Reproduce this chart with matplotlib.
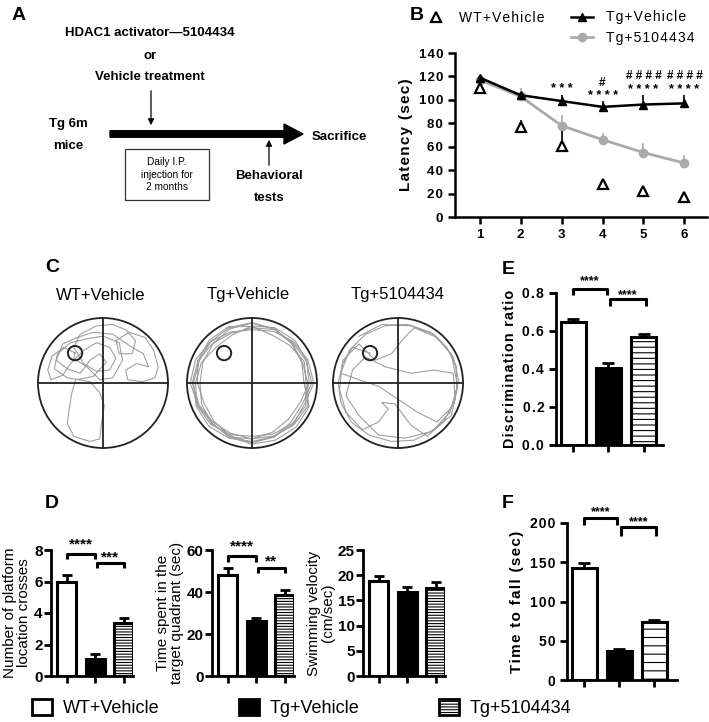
import matplotlib
matplotlib.use("Agg")
import matplotlib.pyplot as plt
import matplotlib.patches as mpatches
from matplotlib.lines import Line2D
from matplotlib.ticker import FuncFormatter
import numpy as np

plt.rcParams["font.family"] = ["Liberation Sans", "DejaVu Sans"]
plt.rcParams["hatch.linewidth"] = 0.8

W, H = 709, 722

# ---------------------------------------------------------------------------
# Data
# ---------------------------------------------------------------------------
groups = ["WT+Vehicle", "Tg+Vehicle", "Tg+5104434"]

# B: Morris water maze latency
days = [1, 2, 3, 4, 5, 6]
wt_latency = [110, 77, 61, 28, 22, 17]
wt_latency_err = [0, 6, 12, 0, 0, 0]
tg_latency = [119, 104, 99, 94, 96, 97]
tg_latency_err = [2, 3, 5, 5, 8, 7]
drug_latency = [117, 103, 78, 66, 55, 46]
drug_latency_err = [2, 7, 9, 6, 8, 7]
star_labels = ["", "", "* * *", "* * * *", "* * * *", "* * * *"]
star_y = [0, 0, 109, 103, 108, 108]
hash_labels = ["", "", "", "#", "# # # #", "# # # #"]
hash_y = [0, 0, 0, 114, 120, 120]

# D: probe trial
crosses = [6.0, 1.1, 3.35]
crosses_err = [0.4, 0.3, 0.35]
quadrant_time = [48, 26, 38.5]
quadrant_time_err = [3.5, 1.5, 2.5]
velocity = [18.8, 16.6, 17.5]
velocity_err = [1.1, 1.0, 1.2]

# E: novel object recognition
discrimination = [0.65, 0.405, 0.57]
discrimination_err = [0.015, 0.025, 0.015]

# F: rotarod
fall_time = [143, 37, 74]
fall_time_err = [6, 2, 3]

# C: swim paths (pool radius = 1)
platform_xy = (-0.43, 0.46)
wt_path_x = [-0.43, -0.6, -0.78, -0.85, -0.8, -0.62, -0.5, -0.3, -0.1, 0.1, 0.2, 0.1,
             -0.1, -0.3, -0.45, -0.35, -0.1, 0.15, 0.35, 0.5, 0.45, 0.25, 0.2, 0.4,
             0.65, 0.78, 0.85, 0.8, 0.6, 0.38, 0.35, 0.52, 0.7, 0.62, 0.4, 0.15,
             -0.15, -0.4, -0.62, -0.72, -0.55, -0.35, -0.2, -0.05, 0.05, -0.15, -0.42,
             -0.48, -0.52, -0.55, -0.45, -0.2, -0.05, -0.02, 0.02, -0.05, -0.2, -0.55,
             -0.75, -0.7, -0.5, -0.25, 0.0, 0.25, 0.3, 0.15, -0.05, -0.25, -0.45, -0.43]
wt_path_y = [0.46, 0.55, 0.42, 0.2, 0.05, 0.12, 0.3, 0.5, 0.62, 0.55, 0.38, 0.2,
             0.18, 0.3, 0.55, 0.75, 0.88, 0.9, 0.82, 0.65, 0.45, 0.45, 0.65, 0.78,
             0.7, 0.5, 0.25, 0.08, 0.02, 0.05, 0.2, 0.3, 0.25, 0.45, 0.58, 0.75,
             0.78, 0.7, 0.6, 0.35, 0.22, 0.15, 0.35, 0.45, 0.32, 0.1, 0.05,
             -0.15, -0.4, -0.62, -0.82, -0.9, -0.86, -0.6, -0.35, -0.15, 0.02, 0.08,
             0.22, 0.45, 0.62, 0.68, 0.72, 0.62, 0.35, 0.08, 0.05, 0.25, 0.38, 0.46]
ring_angles_deg = [0, 22.5, 45, 67.5, 90, 112.5, 135, 157.5,
                   180, 202.5, 225, 247.5, 270, 292.5, 315, 337.5]
tg_ring1 = [0.92, 0.9, 0.88, 0.9, 0.93, 0.92, 0.9, 0.88, 0.9, 0.93, 0.94, 0.92, 0.9, 0.89, 0.91, 0.93]
tg_ring2 = [0.86, 0.84, 0.87, 0.89, 0.85, 0.83, 0.86, 0.9, 0.92, 0.88, 0.85, 0.84, 0.86, 0.88, 0.9, 0.87]
tg_ring3 = [0.95, 0.93, 0.9, 0.86, 0.82, 0.85, 0.9, 0.94, 0.95, 0.9, 0.87, 0.9, 0.94, 0.95, 0.96, 0.95]
tg_ring4 = [0.8, 0.83, 0.86, 0.9, 0.92, 0.9, 0.85, 0.82, 0.8, 0.84, 0.88, 0.9, 0.86, 0.82, 0.79, 0.8]
tg_ring5 = [0.88, 0.91, 0.93, 0.92, 0.88, 0.8, 0.78, 0.84, 0.87, 0.91, 0.9, 0.86, 0.82, 0.85, 0.88, 0.9]
tg_ring6 = [0.83, 0.87, 0.82, 0.8, 0.87, 0.94, 0.93, 0.9, 0.84, 0.8, 0.83, 0.88, 0.92, 0.9, 0.85, 0.84]
drug_path_x = [-0.43, -0.7, -0.85, -0.92, -0.88, -0.72, -0.45, -0.1, 0.25, 0.55, 0.8, 0.9,
               0.9, 0.75, 0.5, 0.15, -0.2, -0.5, -0.75, -0.88, -0.6, -0.3, 0.0, 0.3,
               0.6, 0.85, 0.93, 0.85, 0.6, 0.25, 0.1, -0.1, -0.35, -0.6, -0.85, -0.9,
               -0.8, -0.55, -0.3, -0.15, -0.25, -0.05, 0.2, 0.45, 0.7, 0.88, 0.85, 0.55,
               0.2, -0.2, -0.5, -0.7, -0.8, -0.6, -0.3, 0.1, 0.5, 0.82, 0.92, 0.82,
               0.55, 0.2, -0.25, -0.6]
drug_path_y = [0.46, 0.55, 0.3, 0.0, -0.3, -0.6, -0.8, -0.9, -0.88, -0.72, -0.45, -0.1,
               0.25, 0.55, 0.78, 0.9, 0.88, 0.75, 0.5, 0.15, 0.05, -0.05, -0.25, -0.45,
               -0.6, -0.35, 0.05, 0.4, 0.7, 0.85, 0.7, 0.45, 0.35, 0.6, 0.35, -0.1,
               -0.45, -0.72, -0.6, -0.4, -0.3, -0.32, -0.65, -0.82, -0.6, -0.25, 0.15, 0.2,
               0.15, 0.25, 0.4, 0.2, -0.2, -0.5, -0.8, -0.85, -0.75, -0.5, -0.05, 0.45,
               0.75, 0.88, 0.9, 0.72]


def spaced(s):
    return "\u200a".join(s)


def px_axes(fig, left, top, right, bottom):
    return fig.add_axes([left / W, 1 - bottom / H, (right - left) / W, (bottom - top) / H])


def style_axis(ax, lw=2.0):
    for side in ("top", "right"):
        ax.spines[side].set_visible(False)
    for side in ("left", "bottom"):
        ax.spines[side].set_linewidth(lw)
    ax.tick_params(width=lw, length=5, direction="out")


def bar_panel(ax, vals, errs, width, hatch, ytop, yticks, tick_fs, capsize=4):
    x = np.arange(len(vals))
    bars = ax.bar(x, vals, width, color=["white", "black", "white"],
                  edgecolor="black", linewidth=2.2, zorder=3)
    bars[2].set_hatch(hatch)
    ax.errorbar(x, vals, yerr=[np.zeros(len(vals)), errs], fmt="none",
                ecolor="black", elinewidth=2, capsize=capsize, capthick=2, zorder=2)
    ax.set_ylim(0, ytop)
    ax.set_xticks(x)
    ax.set_xticklabels([])
    ax.set_yticks(yticks)
    style_axis(ax)
    for lab in ax.get_yticklabels():
        lab.set_fontweight("bold")
        lab.set_fontsize(tick_fs)
    ax.patch.set_alpha(0)
    return x


def bracket(ax, x0, x1, y, leg, text, text_y, fs=10):
    ax.plot([x0, x0, x1, x1], [y - leg, y, y, y - leg], color="black", lw=2.2,
            clip_on=False, solid_capstyle="butt", zorder=4)
    ax.text((x0 + x1) / 2, text_y, text, ha="center", va="center", fontsize=fs,
            fontweight="bold", clip_on=False)


fig = plt.figure(figsize=(W / 100, H / 100), dpi=100)

# overlay for panel A, letters and legend (pixel coordinates)
ax0 = fig.add_axes([0, 0, 1, 1])
ax0.set_xlim(0, W)
ax0.set_ylim(H, 0)
ax0.axis("off")

for letter, (lx, ly) in {"A": (12, 15), "B": (410, 15), "C": (45, 267),
                          "D": (45, 503), "E": (502, 269), "F": (502, 503)}.items():
    ax0.text(lx, ly, letter, fontsize=14, fontweight="bold", ha="left", va="center")

# ---- Panel A --------------------------------------------------------------
fa = dict(fontsize=9.5, fontweight="bold", ha="center", va="center")
ax0.text(150, 33, "HDAC1 activator\u20145104434", **fa)
ax0.text(150, 56, "or", **fa)
ax0.text(150, 77, "Vehicle treatment", **fa)
ax0.annotate("", xy=(151, 128), xytext=(151, 88),
             arrowprops=dict(arrowstyle="-|>", color="black", lw=0.9, mutation_scale=9))
ax0.text(68, 124, "Tg 6m", **fa)
ax0.text(68, 146, "mice", **fa)
ax0.add_patch(mpatches.FancyArrow(110, 134, 193, 0, width=6.5, head_width=20,
                                  head_length=19, length_includes_head=True,
                                  color="black"))
ax0.text(312, 137, "Sacrifice", fontsize=9.5, fontweight="bold", ha="left", va="center")
ax0.add_patch(mpatches.Rectangle((125, 149), 84, 51, fill=False, lw=0.9, ec="#333333"))
ax0.text(167, 174.5, "Daily I.P.\ninjection for\n2 months", fontsize=7.3,
         ha="center", va="center", linespacing=1.35)
ax0.annotate("", xy=(269, 137), xytext=(269, 168),
             arrowprops=dict(arrowstyle="-|>", color="black", lw=0.9, mutation_scale=9))
ax0.text(269, 176, "Behavioral", **fa)
ax0.text(269, 198, "tests", **fa)

# ---- Panel B --------------------------------------------------------------
axb = px_axes(fig, 455, 53, 707, 217)
axb.errorbar(days, drug_latency, yerr=[np.zeros(6), drug_latency_err], color="#aaaaaa",
             lw=2, marker="o", ms=6, capsize=0, elinewidth=1.2, zorder=2,
             label="Tg+5104434")
axb.errorbar(days, tg_latency, yerr=[np.zeros(6), tg_latency_err], color="black",
             lw=1.8, marker="^", ms=6, capsize=0, elinewidth=1.2, zorder=3,
             label="Tg+Vehicle")
axb.errorbar(days, wt_latency, yerr=[np.zeros(6), wt_latency_err], color="black",
             ls="none", marker="^", ms=7, mfc="white", mec="black", mew=1.6,
             capsize=0, elinewidth=1.2, zorder=4, label="WT+Vehicle")
for d, s, sy, hs, hy in zip(days, star_labels, star_y, hash_labels, hash_y):
    if s:
        axb.text(d, sy, s, ha="center", va="center", fontsize=9, fontweight="bold")
    if hs:
        axb.text(d, hy, hs, ha="center", va="center", fontsize=8.5, fontweight="bold")
axb.set_xlim(0.4, 6.55)
axb.set_ylim(0, 140)
axb.set_xticks(days)
axb.set_yticks(range(0, 141, 20))
axb.yaxis.set_major_formatter(FuncFormatter(lambda v, p: spaced(f"{v:.0f}")))
style_axis(axb, lw=1.8)
for lab in axb.get_xticklabels() + axb.get_yticklabels():
    lab.set_fontweight("bold")
    lab.set_fontsize(9.5)
axb.set_ylabel(spaced("Latency (sec)"), fontsize=11, fontweight="bold", labelpad=4)
axb.patch.set_alpha(0)

h_wt = Line2D([], [], ls="none", marker="^", ms=7, mfc="white", mec="black", mew=1.6)
h_tg = Line2D([], [], color="black", lw=1.8, marker="^", ms=6)
h_dr = Line2D([], [], color="#aaaaaa", lw=2, marker="o", ms=6)
h_blank = Line2D([], [], ls="none")
fig.legend([h_wt, h_blank, h_tg, h_dr],
           [spaced("WT+Vehicle"), "", spaced("Tg+Vehicle"), spaced("Tg+5104434")],
           ncol=2, frameon=False, fontsize=10, handlelength=1.6, handletextpad=0.9,
           columnspacing=1.9, labelspacing=0.45,
           loc="upper left", bbox_to_anchor=(412 / W, 1 + 2 / H))

# ---- Panel C --------------------------------------------------------------
pool_centers = [103, 252, 398]
pool_cy = 383
pool_r = 65
titles_x = [101, 248, 398]
rings = [tg_ring1, tg_ring2, tg_ring3, tg_ring4, tg_ring5, tg_ring6]
theta = np.deg2rad(ring_angles_deg)
tg_px, tg_py = [], []
for ring in rings:
    tg_px.extend(np.array(ring) * np.cos(theta))
    tg_py.extend(np.array(ring) * np.sin(theta))
tg_px.append(tg_px[0])
tg_py.append(tg_py[0])
paths = [(wt_path_x, wt_path_y), (tg_px, tg_py), (drug_path_x, drug_path_y)]
for cx, tx, name, (px, py) in zip(pool_centers, titles_x, groups, paths):
    axc = px_axes(fig, cx - pool_r - 3, pool_cy - pool_r - 3, cx + pool_r + 3, pool_cy + pool_r + 3)
    lim = 1 + 3 / pool_r
    axc.set_xlim(-lim, lim)
    axc.set_ylim(-lim, lim)
    axc.axis("off")
    axc.plot(px, py, color="#a0a0a0", lw=0.8, zorder=1)
    axc.add_patch(mpatches.Circle((0, 0), 1, fill=False, lw=1.3, ec="#222222", zorder=3))
    axc.plot([-1, 1], [0, 0], color="#222222", lw=1.3, zorder=3)
    axc.plot([0, 0], [-1, 1], color="#222222", lw=1.3, zorder=3)
    axc.add_patch(mpatches.Circle(platform_xy, 0.11, fill=False, lw=1.4, ec="#222222", zorder=4))
    ax0.text(tx, 295, name, fontsize=12, ha="center", va="center")

# ---- Panel D --------------------------------------------------------------
d_specs = [
    (51, crosses, crosses_err, 8, [0, 2, 4, 6, 8], "Number of platform\nlocation crosses"),
    (212, quadrant_time, quadrant_time_err, 60, [0, 20, 40, 60], "Time spent in the\ntarget quadrant (sec)"),
    (363, velocity, velocity_err, 25, [0, 5, 10, 15, 20, 25], "Swimming velocity\n(cm/sec)"),
]
d_axes = []
slot = 28.5
for spine_x, vals, errs, ytop, yt, ylab in d_specs:
    axd = px_axes(fig, spine_x, 550, spine_x + 82, 676)
    bar_panel(axd, vals, errs, 19 / slot, "------", ytop, yt, 11, capsize=3.5)
    axd.set_xlim(-16 / slot, 2 + 9.5 / slot)
    axd.set_ylabel(ylab, fontsize=11, labelpad=2, linespacing=1.0)
    axd.tick_params(axis="y", pad=1)
    d_axes.append(axd)
bracket(d_axes[0], 0, 1, 7.75, 0.35, "****", 8.35, fs=11)
bracket(d_axes[0], 1.05, 2, 7.2, 0.35, "***", 7.55, fs=11)
bracket(d_axes[1], 0, 1, 57, 2.5, "****", 61.5, fs=11)
bracket(d_axes[1], 1.05, 2, 51.5, 2.5, "**", 54.5, fs=11)

# ---- Panel E --------------------------------------------------------------
slot = 35
axe = px_axes(fig, 556, 293, 663, 445)
bar_panel(axe, discrimination, discrimination_err, 25 / slot, "---",
          0.8, [0.0, 0.2, 0.4, 0.6, 0.8], 10, capsize=4)
axe.set_xlim(-17 / slot, 2 + 19 / slot)
axe.yaxis.set_major_formatter(FuncFormatter(lambda v, p: spaced(f"{v:.1f}")))
axe.set_ylabel(spaced("Discrimination ratio"), fontsize=10.3, fontweight="bold", labelpad=4)
bracket(axe, 0, 0.95, 0.823, 0.035, "****", 0.86, fs=9)
bracket(axe, 1.05, 2.05, 0.766, 0.035, "****", 0.79, fs=9)

# ---- Panel F --------------------------------------------------------------
axf = px_axes(fig, 567, 523, 677, 680)
bar_panel(axf, fall_time, fall_time_err, 25 / slot, "--",
          200, [0, 50, 100, 150, 200], 10, capsize=4)
axf.set_xlim(-17 / slot, 2 + 23 / slot)
axf.yaxis.set_major_formatter(FuncFormatter(lambda v, p: spaced(f"{v:.0f}")))
axf.set_ylabel(spaced("Time to fall (sec)"), fontsize=11, fontweight="bold", labelpad=4)
bracket(axf, 0, 0.95, 207, 9, "****", 214, fs=9)
bracket(axf, 1.05, 2.05, 195, 11, "****", 201, fs=9)

for ax in (axb, axe, axf):
    for lab in ax.get_yticklabels():
        lab.set_fontweight("bold")

# ---- Bottom legend --------------------------------------------------------
leg_handles = [
    mpatches.Patch(facecolor="white", edgecolor="black", lw=2),
    mpatches.Patch(facecolor="black", edgecolor="black", lw=2),
    mpatches.Patch(facecolor="white", edgecolor="black", lw=2, hatch="------"),
]
fig.legend(leg_handles, groups, ncol=3, frameon=False, fontsize=13,
           handlelength=1.1, handleheight=1.0, handletextpad=0.6, columnspacing=4.4,
           loc="center left", bbox_to_anchor=(16 / W, 1 - 708 / H))

fig.savefig("out.png", dpi=100)
